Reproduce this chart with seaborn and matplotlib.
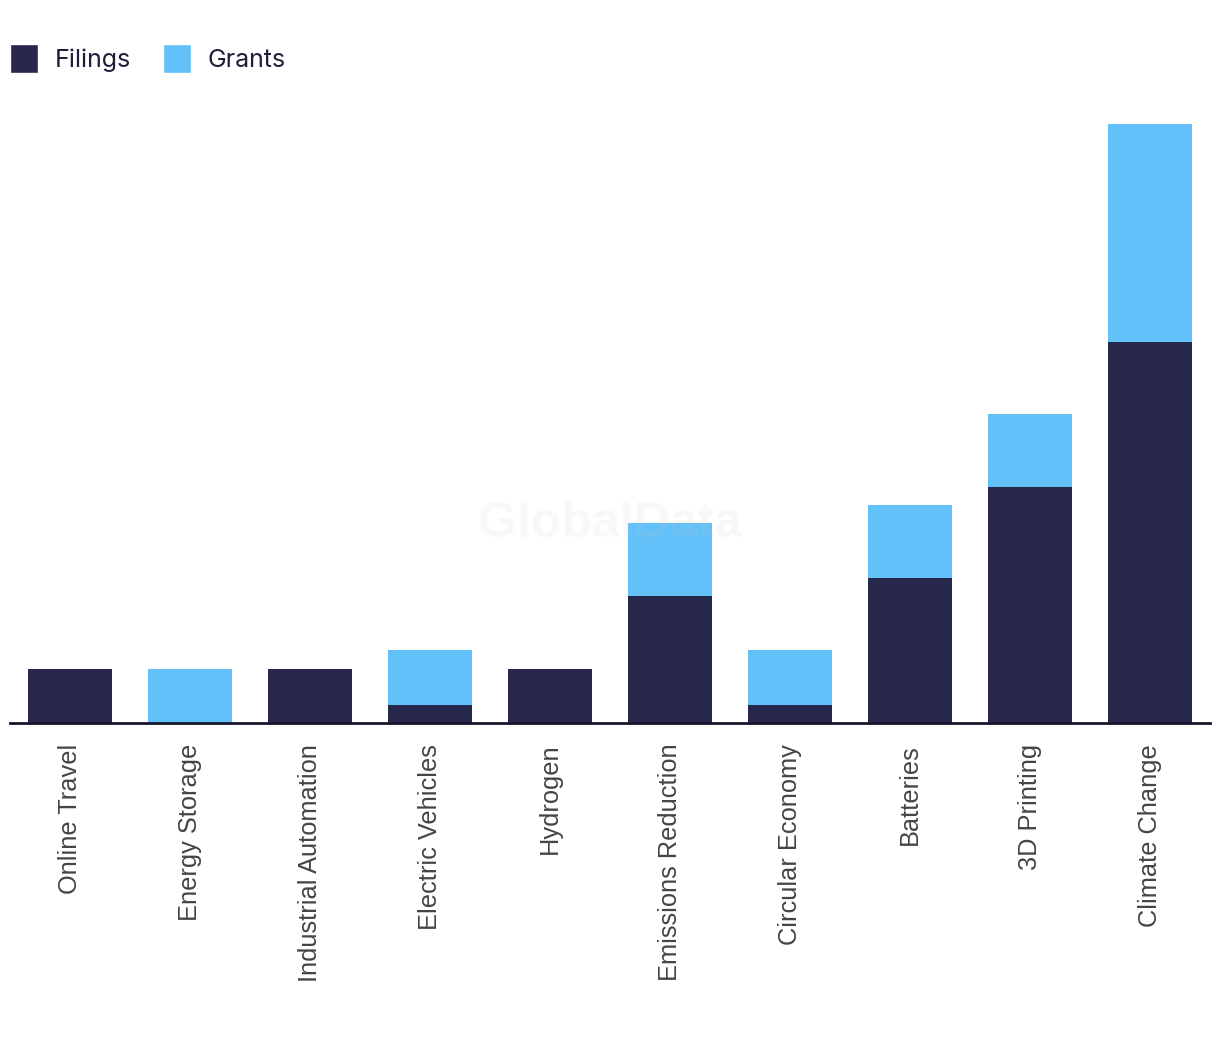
import pandas as pd
import matplotlib.pyplot as plt
import seaborn as sns
from matplotlib.patches import Patch

categories = ['Online Travel', 'Energy Storage', 'Industrial Automation', 'Electric Vehicles',
              'Hydrogen', 'Emissions Reduction', 'Circular Economy', 'Batteries',
              '3D Printing', 'Climate Change']
filings = [3, 0, 3, 1, 3, 7, 1, 8, 13, 21]
grants = [0, 3, 0, 3, 0, 4, 3, 4, 4, 12]

NAVY = '#27274b'
BLUE = '#62c1f8'

df = pd.DataFrame({'category': categories, 'Filings': filings, 'Grants': grants})
df['Total'] = df['Filings'] + df['Grants']

sns.set_style('white')
plt.rcParams['font.family'] = ['Liberation Sans', 'DejaVu Sans']

fig = plt.figure(figsize=(12.2, 10.42), dpi=100)
ax = fig.add_axes([10 / 1220, (1042 - 723) / 1042, 1200 / 1220, (723 - 124) / 1042])

# stacked: total in blue, filings drawn over it
sns.barplot(data=df, x='category', y='Total', color=BLUE, width=0.7, ax=ax,
            saturation=1, linewidth=0)
sns.barplot(data=df, x='category', y='Filings', color=NAVY, width=0.7, ax=ax,
            saturation=1, linewidth=0)

ax.set_xlim(-0.5, 9.5)
ax.set_ylim(0, 33)
ax.set_xlabel('')
ax.set_ylabel('')
ax.set_yticks([])
for s in ['top', 'right', 'left']:
    ax.spines[s].set_visible(False)
ax.spines['bottom'].set_color('#16142a')
ax.spines['bottom'].set_linewidth(2)
ax.tick_params(axis='x', length=0, pad=15, labelsize=18.3, labelcolor='#444444')
plt.setp(ax.get_xticklabels(), rotation=90, va='top', ha='center')

# faint watermark
fig.text(610 / 1220, 1 - 524 / 1042, 'GlobalData', ha='center', va='center',
         fontsize=36, fontweight='bold', color='#c8c8c8', alpha=0.12, zorder=5)

handles = [Patch(facecolor=NAVY, label='Filings'), Patch(facecolor=BLUE, label='Grants')]
fig.legend(handles=handles, loc='upper left', bbox_to_anchor=(10 / 1220, 1 - 44 / 1042),
           ncol=2, frameon=False, borderpad=0, borderaxespad=0,
           handlelength=1.12, handleheight=1.42, handletextpad=0.68, columnspacing=1.25,
           prop={'family': 'Inter', 'size': 18}, labelcolor='#1f1d3a')

fig.savefig('out.png', dpi=100)
